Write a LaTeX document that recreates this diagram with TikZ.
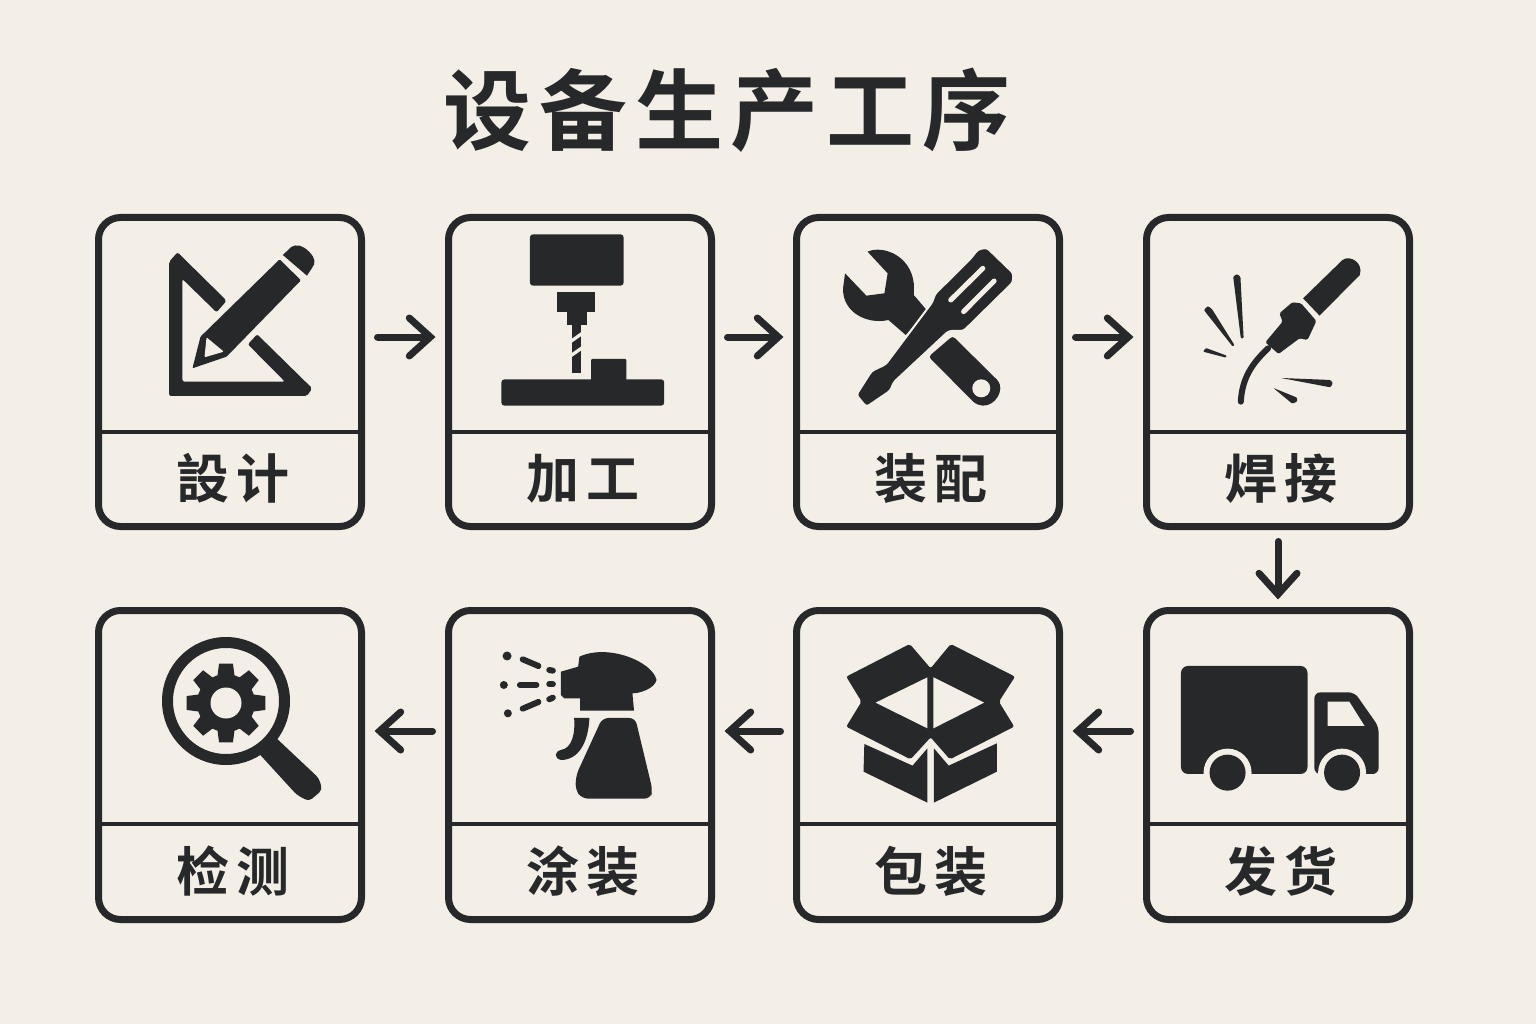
\documentclass[tikz,border=0pt]{standalone}
\usepackage{fontspec}
\usetikzlibrary{arrows.meta}
\newfontfamily\titlefont[LetterSpace=9]{Noto Sans CJK SC Bold}
\newfontfamily\labelfont[LetterSpace=12]{Noto Sans CJK SC Bold}
\definecolor{ink}{HTML}{26282A}
\definecolor{paper}{HTML}{F3EFE7}
\tikzset{
  card/.style={draw=ink,line width=7pt,rounded corners=22pt,minimum width=263pt,minimum height=309pt,inner sep=0pt,outer sep=0pt},
  divider/.style={draw=ink,line width=4.5pt},
  cardlabel/.style={text=ink,font=\labelfont\fontsize{53}{60}\selectfont,text height=44pt,text depth=8pt,inner sep=0pt,anchor=center},
  flow/.style={draw=ink,line width=7pt,line cap=round,-{Straight Barb[length=21pt,width=38pt,line cap=round]}},
  zoomleft/.style={x=0.4018pt,y=-0.3333pt}
}
\begin{document}
\begin{tikzpicture}[x=1pt,y=-1pt]
  \fill[paper] (0,0) rectangle (1536,1024);
  \useasboundingbox (0,0) rectangle (1536,1024);
  \node[text=ink,font=\titlefont\fontsize{88}{100}\selectfont,inner sep=0pt] (title) at (727,110) {设备生产工序};

  \node[card] (design) at (230,372) {};
  \node[card] (machining) at (580,372) {};
  \node[card] (assembly) at (928,372) {};
  \node[card] (welding) at (1278,372) {};
  \node[card] (inspection) at (230,765) {};
  \node[card] (painting) at (580,765) {};
  \node[card] (packing) at (928,765) {};
  \node[card] (shipping) at (1278,765) {};

  \draw[divider] ([yshift=-60pt]design.west) -- ([yshift=-60pt]design.east);
  \draw[divider] ([yshift=-60pt]machining.west) -- ([yshift=-60pt]machining.east);
  \draw[divider] ([yshift=-60pt]assembly.west) -- ([yshift=-60pt]assembly.east);
  \draw[divider] ([yshift=-60pt]welding.west) -- ([yshift=-60pt]welding.east);
  \draw[divider] ([yshift=-59pt]inspection.west) -- ([yshift=-59pt]inspection.east);
  \draw[divider] ([yshift=-59pt]painting.west) -- ([yshift=-59pt]painting.east);
  \draw[divider] ([yshift=-59pt]packing.west) -- ([yshift=-59pt]packing.east);
  \draw[divider] ([yshift=-59pt]shipping.west) -- ([yshift=-59pt]shipping.east);

  \node[cardlabel] (designlabel) at ([xshift=3pt,yshift=46pt]design.south) {設计};
  \node[cardlabel] (machininglabel) at ([xshift=3pt,yshift=46pt]machining.south) {加工};
  \node[cardlabel] (assemblylabel) at ([xshift=3pt,yshift=46pt]assembly.south) {装配};
  \node[cardlabel] (weldinglabel) at ([xshift=3pt,yshift=46pt]welding.south) {焊接};
  \node[cardlabel] (inspectionlabel) at ([xshift=3pt,yshift=46pt]inspection.south) {检测};
  \node[cardlabel] (paintinglabel) at ([xshift=3pt,yshift=46pt]painting.south) {涂装};
  \node[cardlabel] (packinglabel) at ([xshift=3pt,yshift=46pt]packing.south) {包装};
  \node[cardlabel] (shippinglabel) at ([xshift=3pt,yshift=46pt]shipping.south) {发货};

  \draw[flow,shorten <=16pt,shorten >=13pt] ([yshift=35pt]design.east) -- ([yshift=35pt]machining.west);
  \draw[flow,shorten <=16pt,shorten >=13pt] ([yshift=35pt]machining.east) -- ([yshift=35pt]assembly.west);
  \draw[flow,shorten <=16pt,shorten >=13pt] ([yshift=35pt]assembly.east) -- ([yshift=35pt]welding.west);
  \draw[flow,shorten <=15pt,shorten >=11pt] (welding.south) -- (shipping.north);
  \draw[flow,shorten <=16pt,shorten >=13pt] ([yshift=34pt]shipping.west) -- ([yshift=34pt]packing.east);
  \draw[flow,shorten <=16pt,shorten >=13pt] ([yshift=34pt]packing.west) -- ([yshift=34pt]painting.east);
  \draw[flow,shorten <=16pt,shorten >=13pt] ([yshift=34pt]painting.west) -- ([yshift=34pt]inspection.east);

  % set square and pencil, mill
  \begin{scope}[shift={(90,205)},zoomleft]
    \fill[ink,rounded corners=2pt] (197,170) -- (218,142) -- (340,287) -- (315,322) -- (230,222) -- (230,530) -- (485,530) -- (393,418) -- (416,388) -- (553,550) -- (540,573) -- (197,573) -- cycle;
    \fill[ink,rounded corners=1pt] (472,163) -- (525,226) -- (340,455) -- (255,490) -- (275,395) -- cycle;
    \fill[paper,rounded corners=1pt] (290,397) -- (333,440) -- (285,457) -- cycle;
    \fill[ink] (480,150) -- (500,127) .. controls (515,115) and (530,122) .. (545,140) .. controls (562,160) and (562,175) .. (552,190) -- (540,212) -- cycle;
    \fill[ink,rounded corners=3pt] (1095,88) rectangle (1328,242);
    \fill[ink] (1162,262) rectangle (1258,322);
    \fill[ink] (1186,322) rectangle (1238,360);
    \fill[ink] (1200,360) rectangle (1222,503);
    \fill[paper] (1198,402) -- (1224,380) -- (1224,392) -- (1198,414) -- cycle;
    \fill[paper] (1198,445) -- (1224,423) -- (1224,435) -- (1198,457) -- cycle;
    \fill[ink,rounded corners=3pt] (1024,523) rectangle (1429,602);
    \fill[ink,rounded corners=1pt] (1247,462) rectangle (1335,530);
  \end{scope}

  % wrench with screwdriver, soldering iron
  \begin{scope}[shift={(790,205)},zoomleft]
    \fill[ink] (193,140) .. controls (230,120) and (300,150) .. (308,235) -- (308,270) -- (342,318) -- (288,390) -- (245,345) .. controls (190,360) and (130,320) .. (132,250) -- (137,205) -- (190,272) -- (235,265) -- (243,205) -- cycle;
    \fill[ink,rounded corners=3pt] (405,393) -- (520,530) .. controls (530,570) and (500,615) .. (460,595) -- (345,455) -- cycle;
    \fill[paper] (476,550) circle[radius=9pt];
    \filldraw[fill=ink,draw=paper,line width=2pt,rounded corners=3pt] (490,128) -- (556,205) -- (555,232) -- (432,378) -- (395,378) -- (258,532) -- (250,557) -- (190,606) -- (165,570) -- (203,498) -- (238,478) -- (355,290) -- (360,268) -- (448,163) -- (468,133) -- cycle;
    \draw[paper,line width=5pt,line cap=round] (400,285) -- (480,190);
    \draw[paper,line width=5pt,line cap=round] (432,320) -- (508,228);
    \fill[ink] (1277,280) -- (1375,165) .. controls (1395,148) and (1428,175) .. (1418,210) -- (1318,332) -- cycle;
    \fill[ink,rounded corners=1.5pt] (1218,325) -- (1250,292) -- (1272,295) -- (1310,348) -- (1288,405) -- (1268,400) -- (1216,447) -- (1183,412) -- (1226,350) -- cycle;
    \draw[ink,line width=6pt,line cap=round] (1190,430) .. controls (1150,475) and (1125,520) .. (1122,590);
    \fill[ink,rounded corners=1pt] (1103,215) -- (1112,207) -- (1121,215) -- (1129,400) -- (1122,400) -- cycle;
    \fill[ink,rounded corners=1pt] (1030,315) -- (1040,303) -- (1050,312) -- (1106,420) -- (1102,425) -- cycle;
    \fill[ink,rounded corners=1pt] (1028,440) -- (1035,429) -- (1087,452) -- (1085,458) -- cycle;
    \fill[ink,rounded corners=1pt] (1222,519) -- (1345,525) -- (1351,535) -- (1345,547) -- cycle;
    \fill[ink,rounded corners=1pt] (1203,549) -- (1262,578) -- (1262,590) -- (1250,596) -- cycle;
  \end{scope}

  % gear
  \draw[ink,line width=11pt] (226,701) circle[radius=58.5pt];
  \fill[ink,shift={(226,703)}]
    (73:29) -- (80:40) -- (100:40) -- (107:29)
    -- (118:29) -- (125:40) -- (145:40) -- (152:29)
    -- (163:29) -- (170:40) -- (190:40) -- (197:29)
    -- (208:29) -- (215:40) -- (235:40) -- (242:29)
    -- (253:29) -- (260:40) -- (280:40) -- (287:29)
    -- (298:29) -- (305:40) -- (325:40) -- (332:29)
    -- (343:29) -- (350:40) -- (10:40) -- (17:29)
    -- (28:29) -- (35:40) -- (55:40) -- (62:29) -- cycle;
  \fill[paper] (226,703) circle[radius=15.5pt];

  % magnifier handle, spray bottle
  \begin{scope}[shift={(90,600)},zoomleft]
    \fill[ink,rounded corners=4pt] (414,452) -- (458,408) -- (570,535) -- (578,570) -- (545,604) -- (515,585) -- cycle;
    \fill[ink] (1172,215) -- (1215,200) -- (1218,170) .. controls (1290,130) and (1400,185) .. (1410,240) .. controls (1405,265) and (1370,280) .. (1350,280) -- (1354,332) -- (1220,332) -- (1220,295) -- (1180,295) -- (1172,285) -- cycle;
    \fill[ink,rounded corners=6pt] (1275,354) -- (1357,354) -- (1400,570) -- (1395,596) -- (1225,596) -- (1208,570) -- (1210,525) -- cycle;
    \fill[ink] (1205,354) -- (1243,354) .. controls (1240,430) and (1215,480) .. (1172,480) .. controls (1155,475) and (1155,455) .. (1172,450) .. controls (1200,445) and (1208,400) .. cycle;
    \fill[ink] (1038,168) circle[radius=4.5pt];
    \fill[ink] (1030,255) circle[radius=4pt];
    \fill[ink] (1040,340) circle[radius=4pt];
    \draw[ink,line width=6pt,line cap=round] (1077,178) -- (1116,198);
    \draw[ink,line width=6pt,line cap=round] (1070,255) -- (1111,255);
    \draw[ink,line width=6pt,line cap=round] (1077,326) -- (1116,306);
    \draw[ink,line width=6pt,line cap=round] (1143,210) -- (1152,212);
    \draw[ink,line width=6pt,line cap=round] (1143,253) -- (1152,253);
    \draw[ink,line width=6pt,line cap=round] (1143,298) -- (1152,293);
  \end{scope}

  % open box, truck
  \begin{scope}[shift={(790,600)},zoomleft]
    \fill[ink,rounded corners=2pt] (140,230) -- (298,132) -- (350,205) -- (400,132) -- (560,230) -- (520,305) -- (558,380) -- (398,478) -- (350,412) -- (300,478) -- (140,380) -- (178,305) -- cycle;
    \fill[paper] (213,308) -- (342,232) -- (342,385) -- cycle;
    \fill[paper] (357,232) -- (483,308) -- (357,385) -- cycle;
    \fill[ink] (185,432) -- (305,497) -- (342,445) -- (342,608) -- (183,515) -- cycle;
    \fill[ink] (358,445) -- (395,497) -- (515,430) -- (515,515) -- (358,608) -- cycle;
    \fill[ink,rounded corners=7pt] (973,198) rectangle (1288,522);
    \fill[ink,rounded corners=6pt] (1305,277) -- (1405,277) -- (1465,380) -- (1465,522) -- (1305,522) -- cycle;
    \fill[paper] (1338,305) -- (1392,305) -- (1430,378) -- (1338,378) -- cycle;
    \fill[paper] (1089,518) circle[radius=24pt];
    \fill[paper] (1374,518) circle[radius=24pt];
    \fill[ink] (1089,518) circle[radius=18pt];
    \fill[ink] (1374,518) circle[radius=18pt];
  \end{scope}
\end{tikzpicture}
\end{document}
